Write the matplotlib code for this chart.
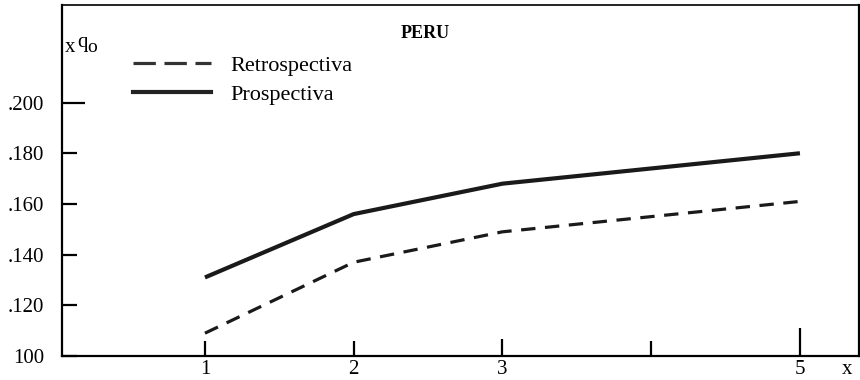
import matplotlib.pyplot as plt
from matplotlib.lines import Line2D

plt.rcParams['font.family'] = ['Liberation Serif', 'DejaVu Serif']

# data
x = [1, 2, 3, 4, 5]
retrospectiva = [0.109, 0.137, 0.149, 0.155, 0.161]
prospectiva = [0.131, 0.156, 0.168, 0.174, 0.180]
yticks = [0.100, 0.120, 0.140, 0.160, 0.180, 0.200]
ytick_labels = ['100', '.120', '.140', '.160', '.180', '.200']
xticks = [1, 2, 3, 4, 5]
xtick_labels = ['1', '2', '3', '', '5']

W, H = 860, 380
fig = plt.figure(figsize=(8.6, 3.8), dpi=100)
ax = fig.add_axes([62 / W, 24 / H, 797 / W, 351 / H])

ax.plot(x, prospectiva, color='#1a1a1a', lw=3.0, solid_capstyle='butt')
ax.plot(x, retrospectiva, color='#1a1a1a', lw=2.3, dashes=(4.5, 3))

ax.set_xlim(0.039, 5.397)
ax.set_ylim(0.100, 0.2385)

ax.set_yticks(yticks)
ax.set_yticklabels(ytick_labels)
ax.set_xticks(xticks)
ax.set_xticklabels(xtick_labels)
ax.tick_params(axis='both', direction='in', width=1.6, labelsize=15, colors='black')
ax.tick_params(axis='y', length=11, pad=13)
ax.tick_params(axis='x', length=11, pad=3)

# individual tick lengths as in the scan
ax.yaxis.get_major_ticks()[5].tick1line.set_markersize(16.5)
ax.xaxis.get_major_ticks()[2].tick1line.set_markersize(12.5)
ax.xaxis.get_major_ticks()[4].tick1line.set_markersize(20)

for side, sp in ax.spines.items():
    sp.set_color('black')
    sp.set_linewidth(1.6)
ax.spines['top'].set_linewidth(1.2)

fig.text(425 / W, 1 - 34 / H, 'PERU', fontsize=13, fontweight='bold',
         ha='center', va='center')

fig.text(70 / W, 1 - 48 / H, 'x', fontsize=15, ha='center', va='center')
fig.text(82 / W, 1 - 42 / H, 'q', fontsize=15, ha='center', va='center')
fig.text(92 / W, 1 - 47 / H, 'o', fontsize=14, ha='center', va='center')
fig.text(847 / W, 1 - 369 / H, 'x', fontsize=15, ha='center', va='center')

handles = [Line2D([], [], color='#333333', lw=2.3, dashes=(7, 2.7)),
           Line2D([], [], color='#222222', lw=3.0)]
ax.legend(handles, ['Retrospectiva', 'Prospectiva'], loc='center left',
          bbox_to_anchor=(133 / W, 1 - 80 / H), bbox_transform=fig.transFigure,
          frameon=False, fontsize=16, handlelength=3.5, handletextpad=0.9,
          labelspacing=0.4, borderpad=0, borderaxespad=0)

fig.savefig('out.png', dpi=100)
